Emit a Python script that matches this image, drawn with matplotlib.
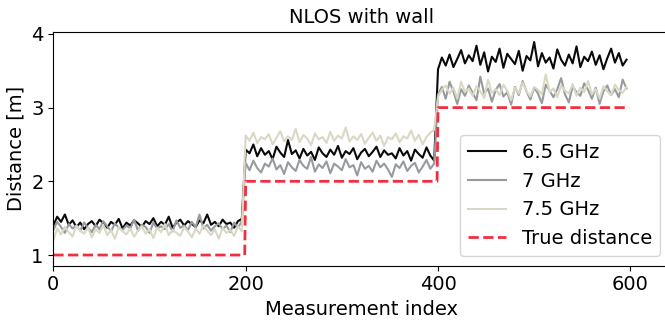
import matplotlib.pyplot as plt
import numpy as np

# measurements, one value every 4th index
step = 4
ghz65 = [1.40, 1.52, 1.45, 1.55, 1.41, 1.47, 1.38, 1.44, 1.35, 1.42,
         1.46, 1.39, 1.48, 1.43, 1.37, 1.45, 1.41, 1.49, 1.36, 1.44,
         1.40, 1.47, 1.43, 1.38, 1.46, 1.42, 1.50, 1.39, 1.45, 1.41,
         1.52, 1.37, 1.44, 1.48, 1.40, 1.46, 1.42, 1.38, 1.47, 1.43,
         1.55, 1.41, 1.45, 1.39, 1.48, 1.42, 1.44, 1.37, 1.46, 1.49,
         2.43, 2.38, 2.50, 2.34, 2.45, 2.36, 2.41, 2.30, 2.47, 2.39,
         2.33, 2.56, 2.37, 2.42, 2.31, 2.44, 2.35, 2.40, 2.29, 2.46,
         2.38, 2.33, 2.43, 2.36, 2.48, 2.32, 2.41, 2.37, 2.45, 2.30,
         2.39, 2.44, 2.34, 2.40, 2.47, 2.33, 2.42, 2.36, 2.38, 2.31,
         2.45, 2.35, 2.41, 2.28, 2.43, 2.37, 2.32, 2.46, 2.35, 2.28,
         3.52, 3.68, 3.57, 3.72, 3.55, 3.66, 3.78, 3.60, 3.71, 3.63,
         3.84, 3.58, 3.75, 3.49, 3.69, 3.62, 3.80, 3.54, 3.73, 3.66,
         3.59, 3.77, 3.50, 3.70, 3.64, 3.89, 3.56, 3.74, 3.61, 3.68,
         3.53, 3.79, 3.65, 3.57, 3.72, 3.60, 3.83, 3.55, 3.69, 3.63,
         3.76, 3.58, 3.71, 3.52, 3.67, 3.80, 3.61, 3.74, 3.57, 3.65]
ghz7 = [1.34, 1.45, 1.38, 1.30, 1.42, 1.36, 1.40, 1.33, 1.44, 1.37,
        1.31, 1.41, 1.35, 1.46, 1.39, 1.32, 1.43, 1.37, 1.34, 1.40,
        1.36, 1.48, 1.33, 1.41, 1.38, 1.30, 1.44, 1.36, 1.39, 1.35,
        1.42, 1.32, 1.47, 1.37, 1.40, 1.34, 1.45, 1.38, 1.55, 1.36,
        1.41, 1.33, 1.39, 1.43, 1.35, 1.40, 1.31, 1.44, 1.37, 1.46,
        2.25, 2.15, 2.28, 2.18, 2.12, 2.24, 2.20, 2.31, 2.16, 2.22,
        2.10, 2.26, 2.19, 2.14, 2.29, 2.21, 2.17, 2.33, 2.13, 2.23,
        2.18, 2.27, 2.11, 2.24, 2.20, 2.15, 2.30, 2.19, 2.22, 2.08,
        2.26, 2.17, 2.21, 2.13, 2.28, 2.19, 2.24, 2.16, 2.06, 2.23,
        2.18, 2.27, 2.14, 2.21, 2.25, 2.12, 2.20, 2.29, 2.17, 2.24,
        3.18, 3.28, 3.12, 3.35, 3.22, 3.05, 3.25, 3.16, 3.30, 3.20,
        3.10, 3.42, 3.19, 3.26, 3.08, 3.24, 3.32, 3.15, 3.21, 3.04,
        3.28, 3.17, 3.36, 3.22, 3.11, 3.27, 3.19, 3.06, 3.31, 3.23,
        3.14, 3.25, 3.40, 3.18, 3.07, 3.29, 3.21, 3.16, 3.33, 3.24,
        3.12, 3.27, 3.05, 3.22, 3.30, 3.17, 3.25, 3.14, 3.38, 3.26]
ghz75 = [1.20, 1.36, 1.28, 1.38, 1.31, 1.25, 1.40, 1.33, 1.29, 1.37,
         1.24, 1.35, 1.30, 1.41, 1.27, 1.34, 1.22, 1.38, 1.32, 1.28,
         1.36, 1.25, 1.33, 1.39, 1.29, 1.35, 1.23, 1.37, 1.31, 1.42,
         1.27, 1.34, 1.30, 1.26, 1.38, 1.32, 1.24, 1.36, 1.29, 1.40,
         1.33, 1.27, 1.35, 1.22, 1.37, 1.30, 1.34, 1.26, 1.39, 1.32,
         2.62, 2.55, 2.66, 2.52, 2.60, 2.57, 2.64, 2.50, 2.59, 2.68,
         2.54, 2.61, 2.56, 2.71, 2.53, 2.63, 2.58, 2.49, 2.65, 2.57,
         2.60, 2.52, 2.67, 2.55, 2.62, 2.58, 2.73, 2.54, 2.61, 2.56,
         2.64, 2.51, 2.59, 2.66, 2.55, 2.62, 2.48, 2.60, 2.57, 2.65,
         2.53, 2.61, 2.58, 2.69, 2.55, 2.63, 2.50, 2.60, 2.66, 2.70,
         3.15, 3.24, 3.30, 3.19, 3.27, 3.12, 3.35, 3.21, 3.26, 3.16,
         3.29, 3.22, 3.13, 3.38, 3.20, 3.25, 3.17, 3.31, 3.23, 3.10,
         3.27, 3.19, 3.34, 3.22, 3.15, 3.28, 3.24, 3.18, 3.45, 3.21,
         3.26, 3.14, 3.30, 3.23, 3.19, 3.32, 3.16, 3.27, 3.21, 3.36,
         3.18, 3.25, 3.12, 3.29, 3.22, 3.17, 3.31, 3.24, 3.20, 3.28]

true_idx = [0, 199, 200, 399, 400, 599]
true_dist = [1, 1, 2, 2, 3, 3]

idx = np.arange(len(ghz65)) * step

fig = plt.figure(figsize=(6.65, 3.22), dpi=100)
ax = fig.add_axes([0.0802, 0.1748, 0.927, 0.7268])

ax.plot(idx, ghz65, color='#0a0a0a', lw=1.5, label='6.5 GHz')
ax.plot(idx, ghz7, color='#979b9e', lw=1.5, label='7 GHz')
ax.plot(idx, ghz75, color='#dad8c4', lw=1.5, label='7.5 GHz')
ax.plot(true_idx, true_dist, '--', color='#f03040', lw=2, label='True distance')

ax.set_xlim(0, 641)
ax.set_ylim(0.855, 4.03)
ax.set_xticks([0, 200, 400, 600])
ax.set_yticks([1, 2, 3, 4])
ax.tick_params(labelsize=14)
ax.set_title('NLOS with wall', fontsize=14)
ax.set_xlabel('Measurement index', fontsize=14)
ax.set_ylabel('Distance [m]', fontsize=14)
ax.legend(loc='lower right', fontsize=14)

plt.savefig('out.png')
